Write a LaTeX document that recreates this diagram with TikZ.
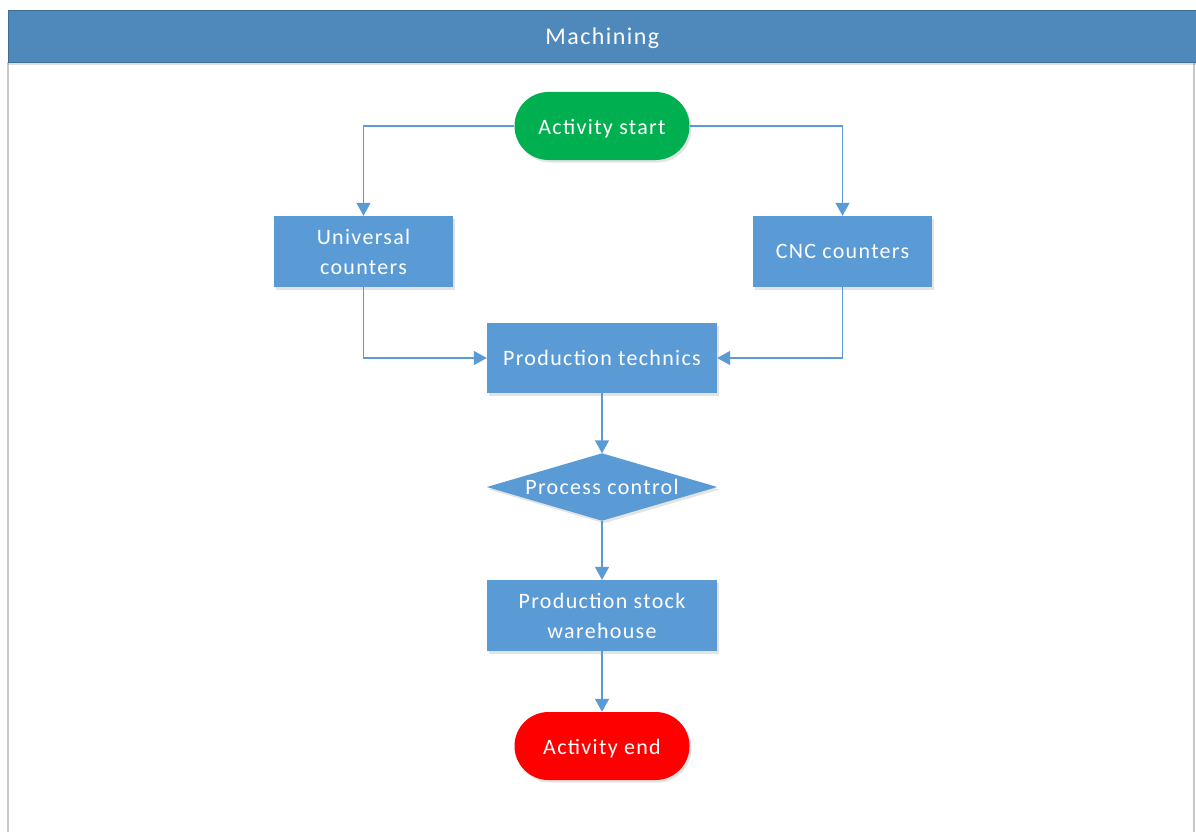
\documentclass[tikz,border=0pt]{standalone}
\usepackage{fontspec}
\newfontfamily\lbl[LetterSpace=6]{Carlito}
\usetikzlibrary{arrows.meta,shadows,backgrounds}
\definecolor{hdrblue}{HTML}{4F88BB}
\definecolor{boxblue}{HTML}{5B9BD5}
\definecolor{startgreen}{HTML}{00B050}
\definecolor{endred}{HTML}{FF0000}
\definecolor{framegray}{HTML}{C8C8C8}
\begin{document}
\begin{tikzpicture}[x=1pt,y=-1pt,
  shade/.style={drop shadow={opacity=0.22,shadow xshift=2pt,shadow yshift=-2.5pt}},
  lblfont/.style={font=\lbl\fontsize{22}{30}\selectfont},
  procbox/.style={rectangle,fill=boxblue,shade,text=white,lblfont,align=center,inner sep=0pt},
  pill/.style={rectangle,rounded corners=34pt,text=white,shade,lblfont,minimum width=175pt,minimum height=68pt,inner sep=0pt},
  conn/.style={draw=boxblue,line width=1.4pt,-{Triangle[width=14pt,length=13pt]}}
]
\path[use as bounding box] (0,0) rectangle (1196,832);
\begin{scope}[on background layer]
\fill[white] (0,0) rectangle (1196,832);
\end{scope}
% frame
\draw[framegray,line width=1.5pt] (8,62) -- (8,832);
\draw[framegray,line width=1.5pt] (1194,62) -- (1194,832);
% header
\node[rectangle,fill=hdrblue,draw=hdrblue!80!black,line width=0.6pt,drop shadow={opacity=0.25,shadow xshift=0pt,shadow yshift=-3pt},anchor=north west,minimum width=1188pt,minimum height=52pt,inner sep=0pt,text=white,font=\lbl\fontsize{24}{30}\selectfont] (hdr) at (8,10) {\raisebox{-2pt}[\height][\depth]{Machining}};

% nodes
\node[pill,fill=startgreen] (start) at (602,126) {\raisebox{-3pt}[\height][\depth]{Activity start}};
\node[procbox,minimum width=179pt,minimum height=71pt] (univ) at (363.5,251.5) {Universal\\[0pt]counters};
\node[procbox,minimum width=179pt,minimum height=71pt] (cnc) at (842.5,251.5) {CNC counters};
\node[procbox,minimum width=230pt,minimum height=70pt] (tech) at (602,358) {Production technics};
\node[rectangle,minimum width=230pt,minimum height=67pt,inner sep=0pt,text=white,lblfont] (pc) at (602,487) {Process control};
\begin{scope}[on background layer]
\fill[boxblue,shade] (pc.north) -- (pc.east) -- (pc.south) -- (pc.west) -- cycle;
\end{scope}
\node[procbox,minimum width=230pt,minimum height=71pt] (wh) at (602,615.5) {Production stock\\[0pt]warehouse};
\node[pill,fill=endred] (end) at (602,746) {\raisebox{-3pt}[\height][\depth]{Activity end}};

% connectors
\draw[conn] (start.west) -| (univ.north);
\draw[conn] (start.east) -| (cnc.north);
\draw[conn] (univ.south) |- (tech.west);
\draw[conn] (cnc.south) |- (tech.east);
\draw[conn] (tech.south) -- (pc.north);
\draw[conn] (pc.south) -- (wh.north);
\draw[conn] (wh.south) -- (end.north);
\end{tikzpicture}
\end{document}
